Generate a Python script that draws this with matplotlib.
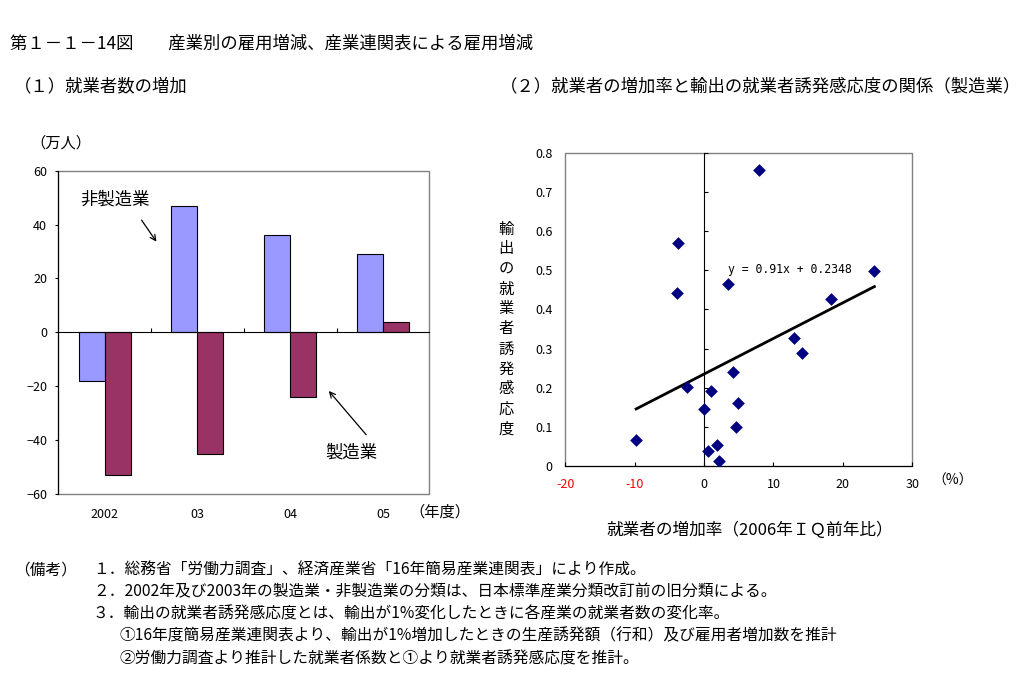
import matplotlib
matplotlib.use("Agg")
import matplotlib.pyplot as plt
from matplotlib.patches import Rectangle
import numpy as np

plt.rcParams['font.family'] = ['Noto Sans CJK JP', 'DejaVu Sans']

# ---------------- data ----------------
years = ["2002", "03", "04", "05"]
non_manufacturing = [-18, 47, 36, 29]
manufacturing = [-53, -45, -24, 4]

growth_rate = [7.93, -3.70, -3.89, 3.46, 24.54, 18.30, 12.97, 14.12, 4.18,
               -2.40, 1.01, -0.05, 4.90, 4.61, -9.80, 1.87, 0.58, 2.16]
sensitivity = [0.757, 0.5685, 0.441, 0.465, 0.497, 0.4255, 0.326, 0.288, 0.239,
               0.203, 0.191, 0.145, 0.160, 0.0987, 0.0655, 0.0528, 0.0374, 0.0119]
trend_slope = 0.91      # per unit fraction (x in %/100)
trend_intercept = 0.2348

bar_yticks = [-60, -40, -20, 0, 20, 40, 60]
sc_xticks = [-20, -10, 0, 10, 20, 30]
sc_yticks = [0, 0.1, 0.2, 0.3, 0.4, 0.5, 0.6, 0.7, 0.8]

W, H = 1031, 674
fig = plt.figure(figsize=(W / 100, H / 100), dpi=100)


def fx(px):
    return px / W


def fy(py):
    return 1 - py / H


# ---------------- titles ----------------
fig.text(fx(10), fy(44), "第１－１－14図　　産業別の雇用増減、産業連関表による雇用増減",
         fontsize=12.5, va='center', ha='left')
fig.text(fx(14), fy(86), "（１）就業者数の増加", fontsize=12.5, va='center', ha='left')
fig.text(fx(500), fy(86), "（２）就業者の増加率と輸出の就業者誘発感応度の関係（製造業）",
         fontsize=12.5, va='center', ha='left')

# ---------------- bar chart ----------------
ax1 = fig.add_axes([fx(58.3), fy(494), (429.3 - 58.3) / W, (494 - 170.7) / H])
x = np.arange(len(years))
bw = 0.28
ax1.bar(x - bw / 2, non_manufacturing, bw, color='#9999FF', edgecolor='black', linewidth=0.8, zorder=3)
ax1.bar(x + bw / 2, manufacturing, bw, color='#993366', edgecolor='black', linewidth=0.8, zorder=3)
ax1.set_xlim(-0.5, len(years) - 0.5)
ax1.set_ylim(-60, 60)
ax1.add_patch(Rectangle((0, 0), 1, 1, transform=ax1.transAxes, fill=False,
                        edgecolor='#808080', linewidth=1.0, zorder=1, clip_on=False))
for s in ['top', 'right']:
    ax1.spines[s].set_visible(False)
ax1.spines['left'].set_color('black')
ax1.spines['bottom'].set_position(('data', 0))
ax1.spines['bottom'].set_color('black')
ax1.spines['bottom'].set_zorder(4)
ax1.set_xticks(x[:-1] + 0.5)
ax1.tick_params(axis='x', direction='in', length=3, labelbottom=False)
ax1.set_yticks(bar_yticks)
ax1.tick_params(axis='y', direction='out', length=2, labelsize=9, pad=6)
sec1 = ax1.secondary_xaxis('bottom')
sec1.set_xticks(x)
sec1.set_xticklabels(years)
sec1.tick_params(length=0, labelsize=9, pad=10)
sec1.spines['bottom'].set_visible(False)

ax1.text(0.117, 49.2, "非製造業", fontsize=12.5, ha='center', va='center')
ax1.annotate("", xy=(0.575, 32.8), xytext=(0.381, 42.5),
             arrowprops=dict(arrowstyle='->', lw=0.9, color='black'))
ax1.text(2.656, -44.7, "製造業", fontsize=12.5, ha='center', va='center')
ax1.annotate("", xy=(2.397, -20.97), xytext=(2.839, -38.8),
             arrowprops=dict(arrowstyle='->', lw=0.9, color='black'))

fig.text(fx(61), fy(143), "（万人）", fontsize=11, ha='center', va='center')
fig.text(fx(440), fy(512), "（年度）", fontsize=11, ha='center', va='center')

# ---------------- scatter ----------------
ax2 = fig.add_axes([fx(565.3), fy(466), (912.3 - 565.3) / W, (466 - 152.7) / H])
ax2.scatter(growth_rate, sensitivity, marker='D', s=42, color='#000080', zorder=4,
            linewidths=0)
xs = np.array([min(growth_rate), max(growth_rate)])
ax2.plot(xs, trend_slope * xs / 100 + trend_intercept, color='black', lw=2, zorder=3)
ax2.set_xlim(-20, 30)
ax2.set_ylim(0, 0.8)
ax2.add_patch(Rectangle((0, 0), 1, 1, transform=ax2.transAxes, fill=False,
                        edgecolor='#808080', linewidth=1.0, zorder=1, clip_on=False))
for s in ['top', 'right']:
    ax2.spines[s].set_visible(False)
ax2.spines['left'].set_position(('data', 0))
ax2.spines['left'].set_color('black')
ax2.spines['bottom'].set_color('black')
ax2.set_yticks(sc_yticks)
ax2.tick_params(axis='y', direction='in', length=3, labelleft=False)
ax2.set_xticks(sc_xticks)
ax2.set_xticklabels([str(v) for v in sc_xticks])
ax2.tick_params(axis='x', direction='in', length=3, labelsize=9, pad=9)
for lab, v in zip(ax2.get_xticklabels(), sc_xticks):
    if v < 0:
        lab.set_color('red')
sec2 = ax2.secondary_yaxis('left')
sec2.set_yticks(sc_yticks)
sec2.set_yticklabels(["0" if v == 0 else f"{v:.1f}" for v in sc_yticks])
sec2.tick_params(length=0, labelsize=9, pad=9)
sec2.spines['left'].set_visible(False)

ax2.text(3.4, 0.503, "y = 0.91x + 0.2348", fontsize=8.3, family='DejaVu Sans Mono',
         ha='left', va='center')

ylabel_chars = "輸出の就業者誘発感応度"
for i, ch in enumerate(ylabel_chars):
    fig.text(fx(506), fy(229 + 20 * i), ch, fontsize=11, ha='center', va='center')
fig.text(fx(750), fy(530), "就業者の増加率（2006年ＩＱ前年比）", fontsize=12,
         ha='center', va='center')
fig.text(fx(953), fy(481), "（%）", fontsize=10, ha='center', va='center')

# ---------------- notes ----------------
notes_y = [570, 592, 614, 636, 659]
notes_x = [93, 93, 93, 119, 119]
notes = [
    "１．総務省「労働力調査」、経済産業省「16年簡易産業連関表」により作成。",
    "２．2002年及び2003年の製造業・非製造業の分類は、日本標準産業分類改訂前の旧分類による。",
    "３．輸出の就業者誘発感応度とは、輸出が1%変化したときに各産業の就業者数の変化率。",
    "①16年度簡易産業連関表より、輸出が1%増加したときの生産誘発額（行和）及び雇用者増加数を推計",
    "②労働力調査より推計した就業者係数と①より就業者誘発感応度を推計。",
]
fig.text(fx(14), fy(570), "（備考）", fontsize=11.3, ha='left', va='center')
for t, xx, yy in zip(notes, notes_x, notes_y):
    fig.text(fx(xx), fy(yy), t, fontsize=11.3, ha='left', va='center')

fig.savefig("out.png", dpi=100)
